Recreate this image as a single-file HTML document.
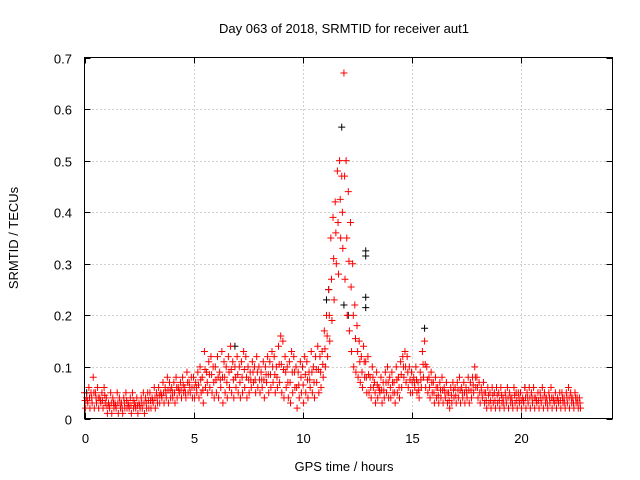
<!DOCTYPE html>
<html><head><meta charset="utf-8"><style>
body{margin:0;background:#fff}
svg{display:block;font-family:"Liberation Sans",sans-serif;font-size:13px}
</style></head><body>
<svg id="chart" width="640" height="480" xmlns="http://www.w3.org/2000/svg">
<rect width="640" height="480" fill="#fff"/>
<text x="344" y="33" text-anchor="middle">Day 063 of 2018, SRMTID for receiver aut1</text>
<text transform="translate(18,238) rotate(-90)" text-anchor="middle">SRMTID / TECUs</text>
<text x="344" y="471" text-anchor="middle">GPS time / hours</text>
<g id="grid"></g><g id="ticks"></g><g id="marks"></g>
<rect x="84.5" y="57.5" width="528" height="361" fill="none" stroke="#000"/>
</svg>
<script>
const xTicks=[0,5,10,15,20];
const yTicks=[0,0.1,0.2,0.3,0.4,0.5,0.6,0.7];
const yTickLabels=["0","0.1","0.2","0.3","0.4","0.5","0.6","0.7"];
const t0=0, dt=0.1;
const redA=[.05,.04,.06,.05,.08,.05,.06,.04,.05,.06,
.04,.03,.05,.04,.03,.05,.04,.03,.04,.05,
.03,.04,.05,.03,.04,.03,.04,.05,.04,.05,
.05,.04,.06,.05,.06,.05,.07,.06,.08,.07,
.06,.07,.08,.06,.07,.08,.06,.09,.07,.08,
.08,.07,.09,.10,.08,.13,.09,.11,.12,.10,
.10,.12,.09,.13,.11,.10,.12,.14,.11,.10,
.12,.10,.11,.13,.12,.10,.09,.11,.10,.12,
.10,.09,.11,.10,.12,.11,.13,.12,.10,.14,
.16,.15,.12,.10,.11,.13,.12,.10,.09,.11,
.10,.12,.11,.09,.13,.10,.12,.14,.12,.13,
.17,.20,.25,.35,.39,.42,.48,.50,.47,.67,
.50,.44,.38,.30,.22,.18,.15,.12,.14,.11,
.12,.08,.10,.07,.09,.06,.08,.07,.09,.10,
.08,.09,.07,.10,.08,.11,.12,.13,.12,.10,
.09,.08,.10,.07,.09,.13,.15,.10,.08,.09,
.07,.08,.06,.07,.08,.06,.07,.05,.06,.07,
.06,.07,.08,.06,.07,.06,.08,.07,.08,.10,
.08,.07,.06,.07,.05,.06,.05,.06,.05,.06,
.05,.06,.04,.05,.06,.05,.04,.06,.05,.05,
.05,.04,.06,.05,.06,.05,.06,.04,.05,.05,
.06,.05,.04,.05,.06,.04,.05,.04,.05,.05,
.04,.05,.06,.05,.04,.05,.04,.04];
const redB=[.02,.03,.02,.03,.02,.03,.02,.03,.02,.03,
.01,.02,.01,.02,.02,.01,.02,.01,.02,.02,
.02,.01,.02,.02,.01,.02,.02,.01,.02,.02,
.02,.03,.02,.03,.03,.04,.03,.04,.03,.04,
.04,.03,.04,.05,.04,.05,.04,.05,.05,.04,
.04,.05,.04,.05,.03,.06,.05,.06,.05,.04,
.05,.04,.06,.03,.05,.04,.06,.05,.04,.06,
.05,.04,.05,.06,.04,.05,.06,.07,.05,.06,
.05,.06,.04,.07,.05,.06,.07,.05,.06,.07,
.05,.04,.06,.04,.03,.05,.06,.02,.04,.05,
.03,.05,.04,.06,.05,.04,.07,.05,.06,.08,
.10,.12,.15,.19,.23,.30,.28,.35,.33,.27,
.20,.17,.13,.10,.09,.08,.07,.06,.08,.05,
.05,.04,.06,.03,.04,.05,.03,.04,.05,.04,
.04,.05,.03,.05,.04,.06,.08,.07,.06,.05,
.05,.06,.05,.04,.06,.08,.06,.05,.04,.05,
.03,.04,.03,.04,.03,.04,.03,.02,.03,.04,
.03,.04,.03,.04,.03,.04,.03,.04,.05,.06,
.04,.03,.04,.03,.02,.03,.02,.03,.02,.03,
.02,.03,.02,.03,.02,.03,.02,.03,.02,.03,
.02,.03,.02,.03,.02,.03,.02,.03,.02,.03,
.02,.03,.02,.03,.02,.03,.02,.03,.02,.03,
.02,.03,.02,.03,.02,.03,.02,.02];
const blackT=[6.9,11.1,11.2,11.8,11.9,12.1,12.9,12.9,12.9,12.9,15.6,0.1,20.2];
const blackV=[.14,.23,.25,.565,.22,.20,.325,.315,.235,.215,.175,.05,.06];
const L=84.5,R=612.5,T=57.5,B=418.5,XMAX=24.22,YMAX=0.7;
const sx=v=>L+(v/XMAX)*(R-L);
const sy=v=>B-(v/YMAX)*(B-T);
const NS="http://www.w3.org/2000/svg";
const g=document.getElementById('grid'),tk=document.getElementById('ticks'),mk=document.getElementById('marks');
function mkEl(tag,attrs,parent){const e=document.createElementNS(NS,tag);for(const k in attrs)e.setAttribute(k,attrs[k]);parent.appendChild(e);return e;}
yTicks.forEach((v,i)=>{const y=Math.round(sy(v))+0.5;
 if(i>0&&i<yTicks.length-1){const gl=mkEl('line',{x1:L,x2:R,y1:y,y2:y,stroke:'#a0a0a0','stroke-dasharray':'1,3'},g);
 
 }
 mkEl('line',{x1:L,x2:L+6,y1:y,y2:y,stroke:'#000'},tk);mkEl('line',{x1:R-6,x2:R,y1:y,y2:y,stroke:'#000'},tk);
 const t=mkEl('text',{x:72,y:y+5,'text-anchor':'end'},tk);t.textContent=yTickLabels[i];
 
 });
xTicks.forEach(v=>{const x=Math.round(sx(v))+0.5;
 if(v>0){const gl=mkEl('line',{x1:x,x2:x,y1:T,y2:B,stroke:'#a0a0a0','stroke-dasharray':'1,3'},g);
 
 }
 mkEl('line',{x1:x,x2:x,y1:B,y2:B-6,stroke:'#000'},tk);mkEl('line',{x1:x,x2:x,y1:T,y2:T+6,stroke:'#000'},tk);
 const t=mkEl('text',{x:x,y:443,'text-anchor':'middle'},tk);t.textContent=String(v);
 
 });
function plus(x,y){return `M${x-3.5},${y}h7M${x},${y-3.5}v7`;}
let db='';blackT.forEach((t,i)=>{db+=plus(sx(t),sy(blackV[i]));});
const pb=mkEl('path',{d:db,stroke:'#000',fill:'none','stroke-width':1},mk);


let dr='';
redA.forEach((v,i)=>{dr+=plus(sx(t0+i*dt),sy(v));});
redB.forEach((v,i)=>{dr+=plus(sx(t0+i*dt+0.05),sy(v));});
redA.forEach((v,i)=>{dr+=plus(sx(t0+i*dt+0.03),sy((v+redB[i])/2));});
const pr=mkEl('path',{d:dr,stroke:'#ff0000',fill:'none','stroke-width':1},mk);


</script>
</body></html>
